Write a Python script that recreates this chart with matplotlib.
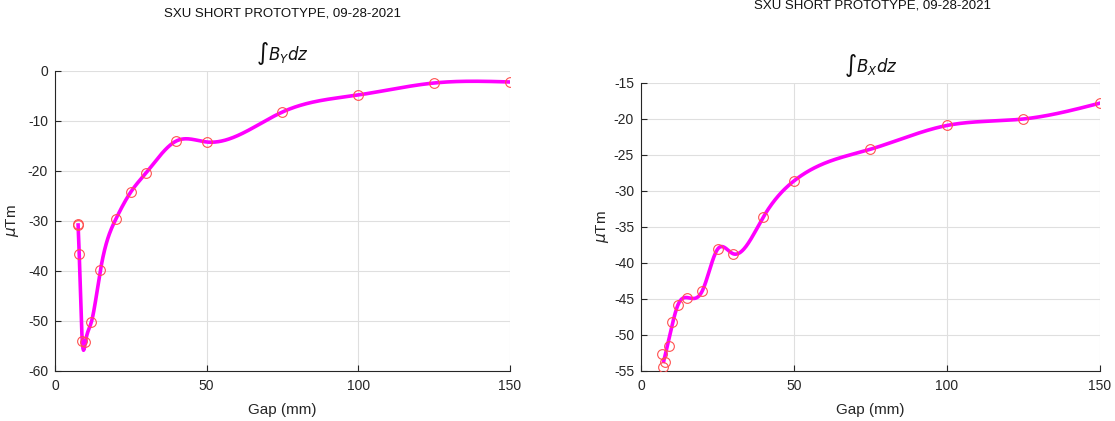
import numpy as np
import matplotlib
matplotlib.use('Agg')
import matplotlib.pyplot as plt

plt.rcParams['font.family'] = ['Liberation Sans', 'DejaVu Sans']
plt.rcParams['mathtext.fontset'] = 'dejavusans'
plt.rcParams['axes.unicode_minus'] = False

# measured integrals vs gap
gap_y = [7.5, 7.75, 8, 9, 10, 12, 15, 20, 25, 30, 40, 50, 75, 100, 125, 150]
iby = [-30.7, -30.9, -36.7, -54.0, -54.3, -50.2, -39.8, -29.7, -24.2, -20.4,
       -14.0, -14.2, -8.2, -4.8, -2.4, -2.2]
gap_x = [7, 7.25, 8, 9, 10, 12, 15, 20, 25, 30, 40, 50, 75, 100, 125, 150]
ibx = [-52.7, -54.5, -53.8, -51.5, -48.2, -45.9, -44.8, -43.9, -38.1, -38.7,
       -33.6, -28.6, -24.2, -20.9, -20.0, -17.8]
title_txt = 'SXU SHORT PROTOTYPE, 09-28-2021'


def merge_close(x, y, tol):
    '''average repeated measurements taken at (nearly) the same gap'''
    xs, ys, grp = [], [], [0]
    for i in range(1, len(x)):
        if x[i] - x[grp[0]] <= tol:
            grp.append(i)
        else:
            xs.append(np.mean([x[j] for j in grp]))
            ys.append(np.mean([y[j] for j in grp]))
            grp = [i]
    xs.append(np.mean([x[j] for j in grp]))
    ys.append(np.mean([y[j] for j in grp]))
    return np.array(xs), np.array(ys)


def spline(x, y, t):
    '''natural cubic spline through (x, y), evaluated at t'''
    n = len(x)
    h = np.diff(x)
    A = np.zeros((n, n))
    r = np.zeros(n)
    A[0, 0] = A[-1, -1] = 1
    for i in range(1, n - 1):
        A[i, i - 1] = h[i - 1]
        A[i, i] = 2 * (h[i - 1] + h[i])
        A[i, i + 1] = h[i]
        r[i] = 6 * ((y[i + 1] - y[i]) / h[i] - (y[i] - y[i - 1]) / h[i - 1])
    M = np.linalg.solve(A, r)
    k = np.clip(np.searchsorted(x, t) - 1, 0, n - 2)
    hk = h[k]
    a = x[k + 1] - t
    b = t - x[k]
    return (M[k] * a**3 / (6 * hk) + M[k + 1] * b**3 / (6 * hk)
            + (y[k] / hk - M[k] * hk / 6) * a
            + (y[k + 1] / hk - M[k + 1] * hk / 6) * b)


def panel(ax, x, y, tol, ttl, ylim, yticks, ylab_x):
    kx, ky = merge_close(x, y, tol)
    t = np.linspace(kx[0], kx[-1], 800)
    ax.plot(t, spline(kx, ky, t), color='#ff00ff', lw=2.6, zorder=2)
    ax.plot(x, y, 'o', mfc='none', mec='#ff5050', ms=7, mew=0.8, zorder=3)
    ax.set_xlim(0, 150)
    ax.set_ylim(*ylim)
    ax.set_xticks([0, 50, 100, 150])
    ax.set_yticks(yticks)
    ax.grid(True, color='#dfdfdf', lw=0.8)
    ax.set_axisbelow(True)
    for s in ('top', 'right'):
        ax.spines[s].set_visible(False)
    for s in ('left', 'bottom'):
        ax.spines[s].set_color('#262626')
    ax.tick_params(direction='in', labelsize=10, colors='#262626', length=4)
    ax.tick_params(axis='y', pad=5)
    ax.tick_params(axis='x', pad=6)
    ax.set_xlabel('Gap (mm)', fontsize=11, color='#262626', labelpad=7)
    ax.set_ylabel(r'$\mu$Tm', fontsize=11, color='#262626')
    ax.yaxis.set_label_coords(ylab_x, 0.5)
    ax.set_title(ttl, fontsize=12, color='#111111', pad=8)


fig = plt.figure(figsize=(11.15, 4.21), dpi=100)
ax1 = fig.add_axes([0.0493, 0.1188, 0.4081, 0.7126])
ax2 = fig.add_axes([0.5749, 0.1188, 0.4116, 0.6841])

panel(ax1, gap_y, iby, 0.3, r'∫$B_Y dz$', (-60, 0), np.arange(-60, 1, 10),
      -0.075)
panel(ax2, gap_x, ibx, 1.0, r'∫$B_X dz$', (-55, -15), np.arange(-55, -14, 5),
      -0.065)

fig.text(282 / 1115, 1 - 13 / 421, title_txt, ha='center', va='center',
         fontsize=9.5, color='#111111')
fig.text(872 / 1115, 1 - 6 / 421, title_txt, ha='center', va='center',
         fontsize=9.5, color='#111111')

fig.savefig('out.png', dpi=100)
